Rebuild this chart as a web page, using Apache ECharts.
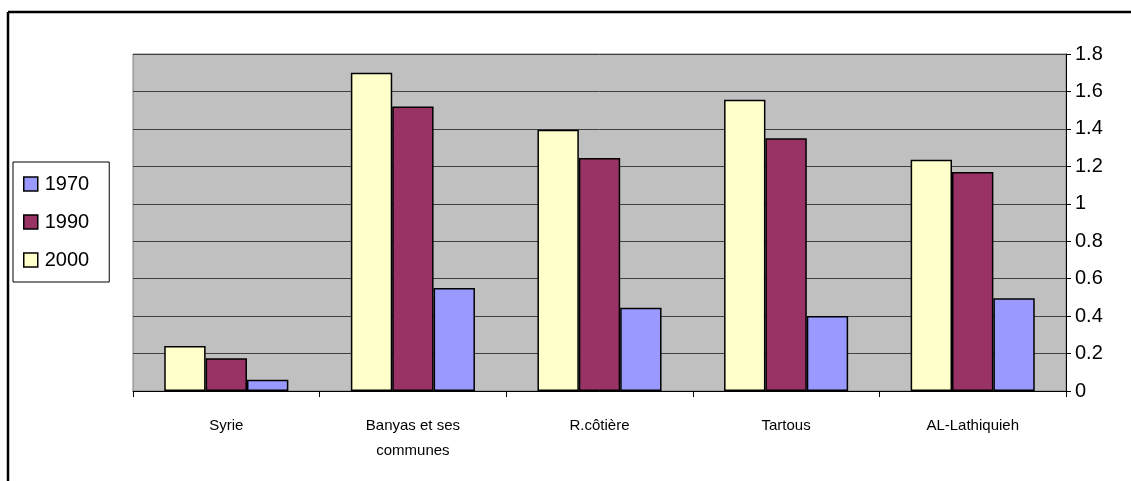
<!DOCTYPE html>
<html>
<head>
<meta charset="utf-8">
<script src="https://cdn.jsdelivr.net/npm/echarts@6/dist/echarts.min.js"></script>
<style>
html,body{margin:0;padding:0;background:#fff;}
#c{width:1131px;height:481px;}
</style>
</head>
<body>
<div id="c"></div>
<script>
const categories = ['Syrie', 'Banyas et ses\ncommunes', 'R.côtière', 'Tartous', 'AL-Lathiquieh'];
const v2000 = [0.24, 1.70, 1.395, 1.555, 1.235];
const v1990 = [0.175, 1.52, 1.245, 1.35, 1.17];
const v1970 = [0.06, 0.55, 0.445, 0.40, 0.495];
const yTicks = [0, 0.2, 0.4, 0.6, 0.8, 1, 1.2, 1.4, 1.6, 1.8];

const chart = echarts.init(document.getElementById('c'), null, {renderer: 'canvas'});
const font = 'Liberation Sans, Arial, sans-serif';
const barStyle = c => ({color: c, borderColor: '#000', borderWidth: 1.5});

chart.setOption({
  animation: false,
  backgroundColor: '#fff',
  grid: {left: 133, top: 54, right: 65, bottom: 90, show: true, backgroundColor: '#C0C0C0', borderColor: '#808080', borderWidth: 1},
  legend: {
    data: ['1970', '1990', '2000'],
    orient: 'vertical',
    left: 13, top: 162,
    padding: [12, 20, 12, 10],
    itemGap: 18,
    itemWidth: 14, itemHeight: 14,
    borderColor: '#000', borderWidth: 1,
    icon: 'rect',
    textStyle: {fontFamily: font, fontSize: 20, color: '#000', padding: [0, 0, 0, 2]},
    itemStyle: {borderColor: '#000', borderWidth: 1.5}
  },
  xAxis: {
    type: 'category',
    data: categories,
    axisLine: {show: true, lineStyle: {color: '#000', width: 1}},
    axisTick: {show: true, length: 6, lineStyle: {color: '#000'}},
    axisLabel: {fontFamily: font, fontSize: 15, color: '#000', margin: 22, lineHeight: 25, interval: 0},
    splitLine: {show: false}
  },
  yAxis: {
    type: 'value',
    position: 'right',
    min: 0, max: 1.8, interval: 0.2,
    axisLine: {show: true, lineStyle: {color: '#000', width: 1}},
    axisTick: {show: true, length: 5, lineStyle: {color: '#000'}},
    axisLabel: {fontFamily: font, fontSize: 20, color: '#000', margin: 9,
      formatter: v => { const t = yTicks.find(x => Math.abs(x - v) < 1e-6); return String(t !== undefined ? t : v); }},
    splitLine: {show: true, lineStyle: {color: '#404040', width: 1}}
  },
  series: [
    {name: '2000', type: 'bar', data: v2000, itemStyle: barStyle('#FFFFCC'), barGap: '0%', barCategoryGap: '33.5%'},
    {name: '1990', type: 'bar', data: v1990, itemStyle: barStyle('#993366'), barGap: '0%', barCategoryGap: '33.5%'},
    {name: '1970', type: 'bar', data: v1970, itemStyle: barStyle('#9999FF'), barGap: '0%', barCategoryGap: '33.5%'}
  ],
  graphic: [
    {type: 'line', shape: {x1: 8, y1: 12, x2: 1131, y2: 12}, style: {stroke: '#000', lineWidth: 2.5}},
    {type: 'line', shape: {x1: 8, y1: 12, x2: 8, y2: 481}, style: {stroke: '#000', lineWidth: 2.5}}
  ]
});
</script>
</body>
</html>
